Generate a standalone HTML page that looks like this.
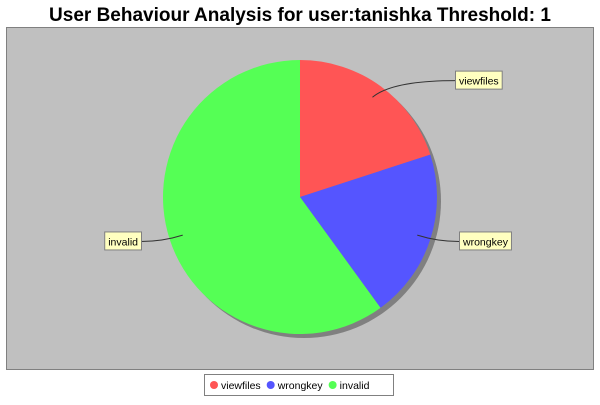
<!DOCTYPE html>
<html><head><meta charset="utf-8"><style>
body{margin:0;width:600px;height:400px;background:#fff;overflow:hidden;font-family:"Liberation Sans","DejaVu Sans",sans-serif}
</style></head><body>
<svg id="chart" width="600" height="400" xmlns="http://www.w3.org/2000/svg">
<rect x="0" y="0" width="600" height="400" fill="#fff"/>
<text x="300" y="21" text-anchor="middle" font-size="19" font-weight="bold" font-family="Liberation Sans, sans-serif">User Behaviour Analysis for user:tanishka Threshold: 1</text>
<rect x="6.5" y="27.5" width="587" height="342" fill="#c0c0c0" stroke="#808080"/>
<g id="pie"></g>
<g id="labels"></g>
<rect x="204.5" y="374.5" width="189" height="21" fill="#fff" stroke="#808080"/>
<g id="legend"></g>
</svg>
<script>
const categories = ["viewfiles", "wrongkey", "invalid"];
const values = [1, 1, 3];
const colors = ["#ff5555", "#5555ff", "#55ff55"];
const NS = "http://www.w3.org/2000/svg";
const cx = 300, cy = 197, R = 137;
const total = values.reduce((a, b) => a + b, 0);
const pie = document.getElementById("pie");
const labels = document.getElementById("labels");
function pt(a, r, ox, oy) { return [ox + r * Math.sin(a), oy - r * Math.cos(a)]; }
const shadow = document.createElementNS(NS, "circle");
shadow.setAttribute("cx", cx + 4); shadow.setAttribute("cy", cy + 4); shadow.setAttribute("r", R);
shadow.setAttribute("fill", "#808080");


pie.appendChild(shadow);
let start = 0;
categories.forEach((c, i) => {
  const ang = values[i] / total * 2 * Math.PI;
  const end = start + ang;
  const [x1, y1] = pt(start, R, cx, cy), [x2, y2] = pt(end, R, cx, cy);
  const p = document.createElementNS(NS, "path");
  p.setAttribute("d", `M${cx},${cy} L${x1},${y1} A${R},${R} 0 ${ang > Math.PI ? 1 : 0} 1 ${x2},${y2} Z`);
  p.setAttribute("fill", colors[i]);
  
  
  pie.appendChild(p);
  const mid = (start + end) / 2;
  const [ax, ay] = pt(mid, R * 0.9, cx, cy);
  const right = Math.sin(mid) >= 0;
  const ly = cy - Math.cos(mid) * R * 1.05;
  const t = document.createElementNS(NS, "text");
  t.setAttribute("font-size", "10.5");
  t.textContent = c;
  
  
  labels.appendChild(t);
  const w = t.getComputedTextLength() + 7;
  const lx = right ? (Math.abs(Math.cos(mid)) > 0.5 ? 455 : 459) : 141 - w;
  t.setAttribute("x", lx + 4); t.setAttribute("y", ly + 4);
  const ex = right ? lx : lx + w;
  const link = document.createElementNS(NS, "path");
  link.setAttribute("d", `M${ax},${ay} Q${right ? ax + 20 : ax - 20},${ly} ${ex},${ly}`);
  link.setAttribute("fill", "none"); link.setAttribute("stroke", "#333");
  
  
  labels.insertBefore(link, t);
  const box = document.createElementNS(NS, "rect");
  box.setAttribute("x", lx + 0.5); box.setAttribute("y", ly - 9.5); box.setAttribute("width", w); box.setAttribute("height", 18);
  box.setAttribute("fill", "#ffffc0"); box.setAttribute("stroke", "#808080");
  
  
  labels.insertBefore(box, t);
  start = end;
});
const leg = document.getElementById("legend");
let lxp = 210;
categories.forEach((c, i) => {
  const d = document.createElementNS(NS, "circle");
  d.setAttribute("cx", lxp + 4); d.setAttribute("cy", 385); d.setAttribute("r", 4); d.setAttribute("fill", colors[i]);
  
  
  leg.appendChild(d);
  const t = document.createElementNS(NS, "text");
  t.setAttribute("x", lxp + 11); t.setAttribute("y", 389); t.setAttribute("font-size", "10.5");
  t.textContent = c;
  
  
  leg.appendChild(t);
  lxp += 11 + t.getComputedTextLength() + 6;
});
</script>
</body></html>
